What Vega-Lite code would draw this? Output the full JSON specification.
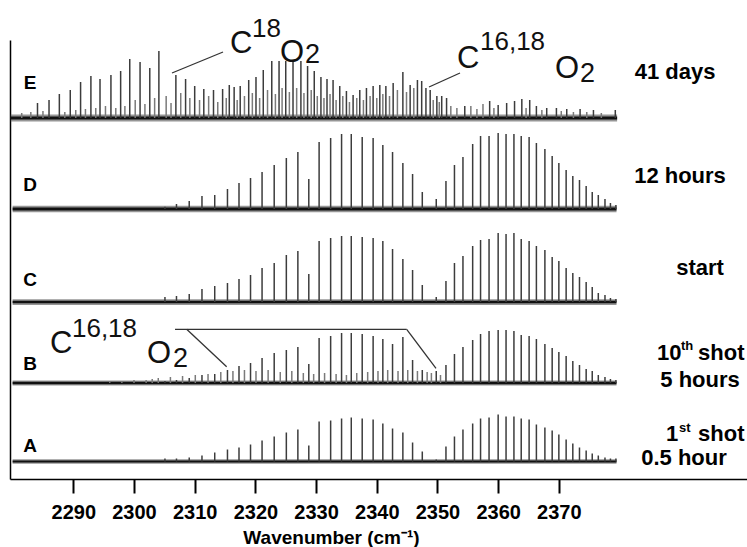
{
  "$schema": "https://vega.github.io/schema/vega-lite/v6.json",
  "width": 737,
  "height": 439,
  "autosize": {"type": "none"},
  "padding": {"left": 10, "top": 40, "right": 0, "bottom": 68},
  "background": "white",
  "config": {
    "view": {"stroke": null},
    "font": "Liberation Sans",
    "axisX": {
      "domainColor": "black", "domainWidth": 1.5, "tickColor": "black", "tickWidth": 2, "tickSize": 14,
      "labelFont": "Liberation Sans", "labelFontSize": 20, "labelFontWeight": "bold", "labelColor": "black", "labelPadding": 9,
      "grid": false, "titleFont": "Liberation Sans", "titleFontSize": 19, "titleFontWeight": "bold", "titleColor": "black",
      "titleX": 321, "titleY": 64, "titleAlign": "center", "titleBaseline": "alphabetic"
    },
    "axisY": {"domainColor": "black", "domainWidth": 1.5, "ticks": false, "labels": false, "grid": false}
  },
  "datasets": {
    "traces": [
      {"trace": "E", "base": 361, "start": 2279.7, "end": 2379.6},
      {"trace": "D", "base": 270, "start": 2280.0, "end": 2379.5},
      {"trace": "C", "base": 177, "start": 2280.0, "end": 2379.5},
      {"trace": "B", "base": 96, "start": 2280.0, "end": 2379.5},
      {"trace": "A", "base": 17.5, "start": 2280.0, "end": 2379.5}
    ],
    "lines": [
      {"trace":"D","wn":2305.1,"h":2.3,"kind":"major"},{"trace":"D","wn":2307.0,"h":5,"kind":"major"},{"trace":"D","wn":2309.1,"h":8,"kind":"major"},{"trace":"D","wn":2311.2,"h":13,"kind":"major"},{"trace":"D","wn":2313.3,"h":14,"kind":"major"},{"trace":"D","wn":2315.4,"h":20,"kind":"major"},{"trace":"D","wn":2317.3,"h":26,"kind":"major"},{"trace":"D","wn":2319.2,"h":31,"kind":"major"},{"trace":"D","wn":2321.1,"h":37,"kind":"major"},{"trace":"D","wn":2323.1,"h":44,"kind":"major"},{"trace":"D","wn":2325.1,"h":51,"kind":"major"},{"trace":"D","wn":2327.0,"h":57,"kind":"major"},{"trace":"D","wn":2328.8,"h":30,"kind":"major"},{"trace":"D","wn":2330.5,"h":67,"kind":"major"},{"trace":"D","wn":2332.4,"h":71,"kind":"major"},{"trace":"D","wn":2334.2,"h":75,"kind":"major"},{"trace":"D","wn":2335.8,"h":75,"kind":"major"},{"trace":"D","wn":2337.6,"h":72,"kind":"major"},{"trace":"D","wn":2339.4,"h":71,"kind":"major"},{"trace":"D","wn":2341.0,"h":64,"kind":"major"},{"trace":"D","wn":2342.6,"h":57,"kind":"major"},{"trace":"D","wn":2344.3,"h":46,"kind":"major"},{"trace":"D","wn":2345.9,"h":35,"kind":"major"},{"trace":"D","wn":2347.5,"h":17,"kind":"major"},
      {"trace":"D","wn":2349.8,"h":10,"kind":"major"},{"trace":"D","wn":2351.4,"h":28,"kind":"major"},{"trace":"D","wn":2352.8,"h":44,"kind":"major"},{"trace":"D","wn":2354.2,"h":52,"kind":"major"},{"trace":"D","wn":2355.8,"h":65,"kind":"major"},{"trace":"D","wn":2357.1,"h":73,"kind":"major"},{"trace":"D","wn":2358.5,"h":73,"kind":"major"},{"trace":"D","wn":2360.0,"h":76,"kind":"major"},{"trace":"D","wn":2361.3,"h":75,"kind":"major"},{"trace":"D","wn":2362.6,"h":75,"kind":"major"},{"trace":"D","wn":2363.8,"h":73,"kind":"major"},{"trace":"D","wn":2365.1,"h":72,"kind":"major"},{"trace":"D","wn":2366.3,"h":66,"kind":"major"},{"trace":"D","wn":2367.7,"h":60,"kind":"major"},{"trace":"D","wn":2368.9,"h":53,"kind":"major"},{"trace":"D","wn":2370.0,"h":46,"kind":"major"},{"trace":"D","wn":2371.2,"h":39,"kind":"major"},{"trace":"D","wn":2372.3,"h":33,"kind":"major"},{"trace":"D","wn":2373.4,"h":29,"kind":"major"},{"trace":"D","wn":2374.5,"h":23,"kind":"major"},{"trace":"D","wn":2375.5,"h":17,"kind":"major"},{"trace":"D","wn":2376.5,"h":14,"kind":"major"},{"trace":"D","wn":2377.6,"h":10,"kind":"major"},{"trace":"D","wn":2378.5,"h":6,"kind":"major"},{"trace":"D","wn":2379.4,"h":4,"kind":"major"},

      {"trace":"C","wn":2305.1,"h":5,"kind":"major"},{"trace":"C","wn":2307.0,"h":6,"kind":"major"},{"trace":"C","wn":2309.1,"h":8,"kind":"major"},{"trace":"C","wn":2311.2,"h":13,"kind":"major"},{"trace":"C","wn":2313.3,"h":16,"kind":"major"},{"trace":"C","wn":2315.4,"h":19,"kind":"major"},{"trace":"C","wn":2317.3,"h":23,"kind":"major"},{"trace":"C","wn":2319.2,"h":27,"kind":"major"},{"trace":"C","wn":2321.1,"h":34,"kind":"major"},{"trace":"C","wn":2323.1,"h":39,"kind":"major"},{"trace":"C","wn":2325.1,"h":47,"kind":"major"},{"trace":"C","wn":2327.0,"h":51,"kind":"major"},{"trace":"C","wn":2328.8,"h":28,"kind":"major"},{"trace":"C","wn":2330.5,"h":61,"kind":"major"},{"trace":"C","wn":2332.4,"h":64,"kind":"major"},{"trace":"C","wn":2334.2,"h":66,"kind":"major"},{"trace":"C","wn":2335.8,"h":66,"kind":"major"},{"trace":"C","wn":2337.6,"h":65,"kind":"major"},{"trace":"C","wn":2339.4,"h":64,"kind":"major"},{"trace":"C","wn":2341.0,"h":61,"kind":"major"},{"trace":"C","wn":2342.6,"h":53,"kind":"major"},{"trace":"C","wn":2344.3,"h":43,"kind":"major"},{"trace":"C","wn":2345.9,"h":32,"kind":"major"},{"trace":"C","wn":2347.5,"h":17,"kind":"major"},
      {"trace":"C","wn":2349.8,"h":5,"kind":"major"},{"trace":"C","wn":2351.4,"h":21,"kind":"major"},{"trace":"C","wn":2352.8,"h":39,"kind":"major"},{"trace":"C","wn":2354.2,"h":46,"kind":"major"},{"trace":"C","wn":2355.8,"h":56,"kind":"major"},{"trace":"C","wn":2357.1,"h":62,"kind":"major"},{"trace":"C","wn":2358.5,"h":63,"kind":"major"},{"trace":"C","wn":2360.0,"h":69,"kind":"major"},{"trace":"C","wn":2361.3,"h":68,"kind":"major"},{"trace":"C","wn":2362.6,"h":69,"kind":"major"},{"trace":"C","wn":2363.8,"h":63,"kind":"major"},{"trace":"C","wn":2365.1,"h":61,"kind":"major"},{"trace":"C","wn":2366.3,"h":56,"kind":"major"},{"trace":"C","wn":2367.7,"h":52,"kind":"major"},{"trace":"C","wn":2368.9,"h":45,"kind":"major"},{"trace":"C","wn":2370.0,"h":41,"kind":"major"},{"trace":"C","wn":2371.2,"h":34,"kind":"major"},{"trace":"C","wn":2372.3,"h":29,"kind":"major"},{"trace":"C","wn":2373.4,"h":25,"kind":"major"},{"trace":"C","wn":2374.5,"h":20,"kind":"major"},{"trace":"C","wn":2375.5,"h":15,"kind":"major"},{"trace":"C","wn":2376.5,"h":9,"kind":"major"},{"trace":"C","wn":2377.6,"h":7,"kind":"major"},{"trace":"C","wn":2378.5,"h":4,"kind":"major"},{"trace":"C","wn":2379.4,"h":3,"kind":"major"},

      {"trace":"B","wn":2305.1,"h":2,"kind":"major"},{"trace":"B","wn":2307.0,"h":3,"kind":"major"},{"trace":"B","wn":2309.1,"h":5,"kind":"major"},{"trace":"B","wn":2311.2,"h":8,"kind":"major"},{"trace":"B","wn":2313.3,"h":9,"kind":"major"},{"trace":"B","wn":2315.4,"h":13,"kind":"major"},{"trace":"B","wn":2317.3,"h":17,"kind":"major"},{"trace":"B","wn":2319.2,"h":20,"kind":"major"},{"trace":"B","wn":2321.1,"h":25,"kind":"major"},{"trace":"B","wn":2323.1,"h":30,"kind":"major"},{"trace":"B","wn":2325.1,"h":33,"kind":"major"},{"trace":"B","wn":2327.0,"h":36,"kind":"major"},{"trace":"B","wn":2328.8,"h":19,"kind":"major"},{"trace":"B","wn":2330.5,"h":45,"kind":"major"},{"trace":"B","wn":2332.4,"h":47,"kind":"major"},{"trace":"B","wn":2334.2,"h":50,"kind":"major"},{"trace":"B","wn":2335.8,"h":50,"kind":"major"},{"trace":"B","wn":2337.6,"h":49,"kind":"major"},{"trace":"B","wn":2339.4,"h":47,"kind":"major"},{"trace":"B","wn":2341.0,"h":44,"kind":"major"},{"trace":"B","wn":2342.6,"h":39,"kind":"major"},{"trace":"B","wn":2344.3,"h":46,"kind":"major"},{"trace":"B","wn":2345.9,"h":23,"kind":"major"},{"trace":"B","wn":2347.5,"h":13,"kind":"major"},
      {"trace":"B","wn":2349.8,"h":12,"kind":"major"},{"trace":"B","wn":2351.4,"h":18,"kind":"major"},{"trace":"B","wn":2352.8,"h":29,"kind":"major"},{"trace":"B","wn":2354.2,"h":36,"kind":"major"},{"trace":"B","wn":2355.8,"h":43,"kind":"major"},{"trace":"B","wn":2357.1,"h":49,"kind":"major"},{"trace":"B","wn":2358.5,"h":52,"kind":"major"},{"trace":"B","wn":2360.0,"h":53,"kind":"major"},{"trace":"B","wn":2361.3,"h":53,"kind":"major"},{"trace":"B","wn":2362.6,"h":52,"kind":"major"},{"trace":"B","wn":2363.8,"h":48,"kind":"major"},{"trace":"B","wn":2365.1,"h":47,"kind":"major"},{"trace":"B","wn":2366.3,"h":44,"kind":"major"},{"trace":"B","wn":2367.7,"h":39,"kind":"major"},{"trace":"B","wn":2368.9,"h":35,"kind":"major"},{"trace":"B","wn":2370.0,"h":31,"kind":"major"},{"trace":"B","wn":2371.2,"h":27,"kind":"major"},{"trace":"B","wn":2372.3,"h":22,"kind":"major"},{"trace":"B","wn":2373.4,"h":18,"kind":"major"},{"trace":"B","wn":2374.5,"h":14,"kind":"major"},{"trace":"B","wn":2375.5,"h":12,"kind":"major"},{"trace":"B","wn":2376.5,"h":8,"kind":"major"},{"trace":"B","wn":2377.6,"h":6,"kind":"major"},{"trace":"B","wn":2378.5,"h":4,"kind":"major"},{"trace":"B","wn":2379.4,"h":3,"kind":"major"},
      {"trace":"B","wn":2296.0,"h":2,"kind":"minor"},{"trace":"B","wn":2298.0,"h":2,"kind":"minor"},{"trace":"B","wn":2300.0,"h":3,"kind":"minor"},{"trace":"B","wn":2302.0,"h":3,"kind":"minor"},{"trace":"B","wn":2303.0,"h":4,"kind":"minor"},{"trace":"B","wn":2304.0,"h":5,"kind":"minor"},{"trace":"B","wn":2306.0,"h":6,"kind":"minor"},{"trace":"B","wn":2308.0,"h":7,"kind":"minor"},{"trace":"B","wn":2310.1,"h":8,"kind":"minor"},{"trace":"B","wn":2312.2,"h":9,"kind":"minor"},{"trace":"B","wn":2314.3,"h":11,"kind":"minor"},{"trace":"B","wn":2316.3,"h":12,"kind":"minor"},{"trace":"B","wn":2318.2,"h":13,"kind":"minor"},{"trace":"B","wn":2320.1,"h":12,"kind":"minor"},{"trace":"B","wn":2322.1,"h":13,"kind":"minor"},{"trace":"B","wn":2324.1,"h":11,"kind":"minor"},{"trace":"B","wn":2326.0,"h":12,"kind":"minor"},{"trace":"B","wn":2327.9,"h":10,"kind":"minor"},{"trace":"B","wn":2329.6,"h":9,"kind":"minor"},{"trace":"B","wn":2331.4,"h":10,"kind":"minor"},{"trace":"B","wn":2333.3,"h":9,"kind":"minor"},{"trace":"B","wn":2335.0,"h":8,"kind":"minor"},{"trace":"B","wn":2336.7,"h":10,"kind":"minor"},{"trace":"B","wn":2338.5,"h":11,"kind":"minor"},{"trace":"B","wn":2340.2,"h":12,"kind":"minor"},{"trace":"B","wn":2341.8,"h":13,"kind":"minor"},{"trace":"B","wn":2343.5,"h":12,"kind":"minor"},{"trace":"B","wn":2345.1,"h":13,"kind":"minor"},{"trace":"B","wn":2346.7,"h":12,"kind":"minor"},{"trace":"B","wn":2348.3,"h":11,"kind":"minor"},{"trace":"B","wn":2349.0,"h":10,"kind":"minor"},{"trace":"B","wn":2350.5,"h":8,"kind":"minor"},

      {"trace":"A","wn":2305.1,"h":3,"kind":"major"},{"trace":"A","wn":2307.0,"h":3,"kind":"major"},{"trace":"A","wn":2309.1,"h":4,"kind":"major"},{"trace":"A","wn":2311.2,"h":6,"kind":"major"},{"trace":"A","wn":2313.3,"h":9,"kind":"major"},{"trace":"A","wn":2315.4,"h":12,"kind":"major"},{"trace":"A","wn":2317.3,"h":14,"kind":"major"},{"trace":"A","wn":2319.2,"h":17,"kind":"major"},{"trace":"A","wn":2321.1,"h":21,"kind":"major"},{"trace":"A","wn":2323.1,"h":25,"kind":"major"},{"trace":"A","wn":2325.1,"h":29,"kind":"major"},{"trace":"A","wn":2327.0,"h":32,"kind":"major"},{"trace":"A","wn":2328.8,"h":16,"kind":"major"},{"trace":"A","wn":2330.5,"h":40,"kind":"major"},{"trace":"A","wn":2332.4,"h":41,"kind":"major"},{"trace":"A","wn":2334.2,"h":43,"kind":"major"},{"trace":"A","wn":2335.8,"h":44,"kind":"major"},{"trace":"A","wn":2337.6,"h":43,"kind":"major"},{"trace":"A","wn":2339.4,"h":42,"kind":"major"},{"trace":"A","wn":2341.0,"h":38,"kind":"major"},{"trace":"A","wn":2342.6,"h":33,"kind":"major"},{"trace":"A","wn":2344.3,"h":29,"kind":"major"},{"trace":"A","wn":2345.9,"h":19,"kind":"major"},{"trace":"A","wn":2347.5,"h":10,"kind":"major"},
      {"trace":"A","wn":2349.8,"h":2,"kind":"major"},{"trace":"A","wn":2351.4,"h":15,"kind":"major"},{"trace":"A","wn":2352.8,"h":25,"kind":"major"},{"trace":"A","wn":2354.2,"h":32,"kind":"major"},{"trace":"A","wn":2355.8,"h":38,"kind":"major"},{"trace":"A","wn":2357.1,"h":43,"kind":"major"},{"trace":"A","wn":2358.5,"h":44,"kind":"major"},{"trace":"A","wn":2360.0,"h":47,"kind":"major"},{"trace":"A","wn":2361.3,"h":45,"kind":"major"},{"trace":"A","wn":2362.6,"h":45,"kind":"major"},{"trace":"A","wn":2363.8,"h":43,"kind":"major"},{"trace":"A","wn":2365.1,"h":42,"kind":"major"},{"trace":"A","wn":2366.3,"h":37,"kind":"major"},{"trace":"A","wn":2367.7,"h":34,"kind":"major"},{"trace":"A","wn":2368.9,"h":31,"kind":"major"},{"trace":"A","wn":2370.0,"h":27,"kind":"major"},{"trace":"A","wn":2371.2,"h":22,"kind":"major"},{"trace":"A","wn":2372.3,"h":18,"kind":"major"},{"trace":"A","wn":2373.4,"h":14,"kind":"major"},{"trace":"A","wn":2374.5,"h":11,"kind":"major"},{"trace":"A","wn":2375.5,"h":8,"kind":"major"},{"trace":"A","wn":2376.5,"h":6,"kind":"major"},{"trace":"A","wn":2377.6,"h":4,"kind":"major"},{"trace":"A","wn":2378.5,"h":3,"kind":"major"},{"trace":"A","wn":2379.4,"h":3,"kind":"major"},

      {"trace":"E","wn":2284.1,"h":15,"kind":"major"},{"trace":"E","wn":2286.0,"h":18,"kind":"major"},{"trace":"E","wn":2287.7,"h":24,"kind":"major"},{"trace":"E","wn":2289.5,"h":28,"kind":"major"},{"trace":"E","wn":2291.2,"h":36,"kind":"major"},{"trace":"E","wn":2292.9,"h":42,"kind":"major"},{"trace":"E","wn":2294.4,"h":39,"kind":"major"},{"trace":"E","wn":2296.2,"h":43,"kind":"major"},{"trace":"E","wn":2297.8,"h":47,"kind":"major"},{"trace":"E","wn":2299.3,"h":59,"kind":"major"},{"trace":"E","wn":2301.0,"h":56,"kind":"major"},{"trace":"E","wn":2302.6,"h":50,"kind":"major"},{"trace":"E","wn":2304.1,"h":67,"kind":"major"},{"trace":"E","wn":2306.9,"h":43,"kind":"major"},{"trace":"E","wn":2308.5,"h":39,"kind":"major"},{"trace":"E","wn":2310.0,"h":32,"kind":"major"},{"trace":"E","wn":2311.5,"h":29,"kind":"major"},{"trace":"E","wn":2313.1,"h":28,"kind":"major"},{"trace":"E","wn":2314.6,"h":29,"kind":"major"},{"trace":"E","wn":2315.7,"h":33,"kind":"major"},{"trace":"E","wn":2316.5,"h":31,"kind":"major"},{"trace":"E","wn":2317.5,"h":32,"kind":"major"},{"trace":"E","wn":2318.9,"h":38,"kind":"major"},{"trace":"E","wn":2320.1,"h":41,"kind":"major"},{"trace":"E","wn":2321.3,"h":48,"kind":"major"},{"trace":"E","wn":2322.7,"h":57,"kind":"major"},{"trace":"E","wn":2323.9,"h":57,"kind":"major"},{"trace":"E","wn":2325.0,"h":57,"kind":"major"},{"trace":"E","wn":2326.2,"h":58,"kind":"major"},{"trace":"E","wn":2327.5,"h":57,"kind":"major"},{"trace":"E","wn":2328.6,"h":52,"kind":"major"},{"trace":"E","wn":2329.7,"h":47,"kind":"major"},{"trace":"E","wn":2330.8,"h":41,"kind":"major"},{"trace":"E","wn":2331.8,"h":39,"kind":"major"},{"trace":"E","wn":2332.8,"h":38,"kind":"major"},{"trace":"E","wn":2333.9,"h":32,"kind":"major"},{"trace":"E","wn":2335.0,"h":27,"kind":"major"},{"trace":"E","wn":2336.1,"h":23,"kind":"major"},{"trace":"E","wn":2337.2,"h":28,"kind":"major"},{"trace":"E","wn":2338.3,"h":30,"kind":"major"},{"trace":"E","wn":2339.4,"h":32,"kind":"major"},{"trace":"E","wn":2340.5,"h":33,"kind":"major"},{"trace":"E","wn":2341.5,"h":32,"kind":"major"},{"trace":"E","wn":2342.7,"h":35,"kind":"major"},{"trace":"E","wn":2344.3,"h":46,"kind":"major"},{"trace":"E","wn":2345.5,"h":33,"kind":"major"},{"trace":"E","wn":2346.7,"h":38,"kind":"major"},{"trace":"E","wn":2347.4,"h":37,"kind":"major"},{"trace":"E","wn":2348.1,"h":30,"kind":"major"},{"trace":"E","wn":2348.8,"h":28,"kind":"major"},{"trace":"E","wn":2349.9,"h":22,"kind":"major"},{"trace":"E","wn":2350.7,"h":22,"kind":"major"},{"trace":"E","wn":2351.5,"h":20,"kind":"major"},{"trace":"E","wn":2354.5,"h":12,"kind":"major"},{"trace":"E","wn":2358.6,"h":17,"kind":"major"},{"trace":"E","wn":2360.0,"h":13,"kind":"major"},{"trace":"E","wn":2361.4,"h":15,"kind":"major"},{"trace":"E","wn":2362.7,"h":17,"kind":"major"},{"trace":"E","wn":2363.9,"h":19,"kind":"major"},{"trace":"E","wn":2365.2,"h":18,"kind":"major"},{"trace":"E","wn":2366.3,"h":12,"kind":"major"},{"trace":"E","wn":2368.0,"h":10,"kind":"major"},{"trace":"E","wn":2369.6,"h":10,"kind":"major"},{"trace":"E","wn":2371.3,"h":9,"kind":"major"},{"trace":"E","wn":2373.5,"h":9,"kind":"major"},{"trace":"E","wn":2375.7,"h":8,"kind":"major"},{"trace":"E","wn":2379.3,"h":8,"kind":"major"},
      {"trace":"E","wn":2281.5,"h":5,"kind":"minor"},{"trace":"E","wn":2283.0,"h":6,"kind":"minor"},{"trace":"E","wn":2285.0,"h":7,"kind":"minor"},{"trace":"E","wn":2288.6,"h":6,"kind":"minor"},{"trace":"E","wn":2290.4,"h":8,"kind":"minor"},{"trace":"E","wn":2292.0,"h":9,"kind":"minor"},{"trace":"E","wn":2293.7,"h":10,"kind":"minor"},{"trace":"E","wn":2295.3,"h":12,"kind":"minor"},{"trace":"E","wn":2297.0,"h":10,"kind":"minor"},{"trace":"E","wn":2298.5,"h":12,"kind":"minor"},
      {"trace":"E","wn":2300.2,"h":18,"kind":"minor"},{"trace":"E","wn":2301.8,"h":14,"kind":"minor"},{"trace":"E","wn":2303.4,"h":20,"kind":"minor"},{"trace":"E","wn":2305.3,"h":22,"kind":"minor"},{"trace":"E","wn":2306.1,"h":15,"kind":"minor"},{"trace":"E","wn":2307.7,"h":25,"kind":"minor"},{"trace":"E","wn":2309.2,"h":20,"kind":"minor"},{"trace":"E","wn":2310.8,"h":18,"kind":"minor"},{"trace":"E","wn":2312.3,"h":22,"kind":"minor"},{"trace":"E","wn":2313.8,"h":16,"kind":"minor"},{"trace":"E","wn":2315.2,"h":20,"kind":"minor"},{"trace":"E","wn":2317.0,"h":18,"kind":"minor"},{"trace":"E","wn":2318.2,"h":22,"kind":"minor"},{"trace":"E","wn":2319.5,"h":25,"kind":"minor"},{"trace":"E","wn":2320.7,"h":20,"kind":"minor"},{"trace":"E","wn":2322.0,"h":28,"kind":"minor"},{"trace":"E","wn":2323.3,"h":24,"kind":"minor"},{"trace":"E","wn":2324.4,"h":30,"kind":"minor"},{"trace":"E","wn":2325.6,"h":26,"kind":"minor"},{"trace":"E","wn":2326.8,"h":30,"kind":"minor"},{"trace":"E","wn":2328.0,"h":25,"kind":"minor"},{"trace":"E","wn":2329.2,"h":28,"kind":"minor"},{"trace":"E","wn":2330.2,"h":22,"kind":"minor"},{"trace":"E","wn":2331.3,"h":20,"kind":"minor"},{"trace":"E","wn":2332.3,"h":24,"kind":"minor"},{"trace":"E","wn":2333.3,"h":18,"kind":"minor"},{"trace":"E","wn":2334.4,"h":22,"kind":"minor"},{"trace":"E","wn":2335.5,"h":16,"kind":"minor"},{"trace":"E","wn":2336.7,"h":20,"kind":"minor"},{"trace":"E","wn":2337.8,"h":18,"kind":"minor"},{"trace":"E","wn":2338.9,"h":22,"kind":"minor"},{"trace":"E","wn":2340.0,"h":20,"kind":"minor"},{"trace":"E","wn":2341.0,"h":24,"kind":"minor"},{"trace":"E","wn":2342.1,"h":22,"kind":"minor"},{"trace":"E","wn":2343.4,"h":28,"kind":"minor"},{"trace":"E","wn":2344.9,"h":26,"kind":"minor"},{"trace":"E","wn":2346.1,"h":30,"kind":"minor"},{"trace":"E","wn":2349.3,"h":18,"kind":"minor"},{"trace":"E","wn":2350.3,"h":16,"kind":"minor"},{"trace":"E","wn":2352.2,"h":12,"kind":"minor"},{"trace":"E","wn":2353.2,"h":10,"kind":"minor"},{"trace":"E","wn":2355.5,"h":12,"kind":"minor"},{"trace":"E","wn":2356.5,"h":9,"kind":"minor"},{"trace":"E","wn":2357.5,"h":14,"kind":"minor"},{"trace":"E","wn":2359.3,"h":10,"kind":"minor"},{"trace":"E","wn":2364.6,"h":10,"kind":"minor"},{"trace":"E","wn":2367.2,"h":8,"kind":"minor"},{"trace":"E","wn":2370.4,"h":7,"kind":"minor"},{"trace":"E","wn":2372.4,"h":6,"kind":"minor"},{"trace":"E","wn":2374.6,"h":6,"kind":"minor"},{"trace":"E","wn":2377.0,"h":5,"kind":"minor"}
    ],
    "leaders": [
      {"wn": 2306.26, "y": 406, "wn2": 2314.67, "y2": 427},
      {"wn": 2348.61, "y": 392, "wn2": 2353.71, "y2": 406},
      {"wn": 2306.76, "y": 149.7, "wn2": 2344.93, "y2": 149.7},
      {"wn": 2308.68, "y": 149.7, "wn2": 2315.27, "y2": 112.3},
      {"wn": 2344.93, "y": 149.7, "wn2": 2349.76, "y2": 110.7}
    ],
    "letters": [
      {"t": "E", "wn": 2282.9, "y": 396},
      {"t": "D", "wn": 2282.9, "y": 294},
      {"t": "C", "wn": 2282.9, "y": 199},
      {"t": "B", "wn": 2282.9, "y": 115},
      {"t": "A", "wn": 2282.9, "y": 33}
    ],
    "rlabels": [
      {"t": "41 days", "wn": 2389.14, "y": 407},
      {"t": "12 hours", "wn": 2389.96, "y": 303},
      {"t": "start", "wn": 2393.26, "y": 211},
      {"t": "5 hours", "wn": 2393.26, "y": 99},
      {"t": "0.5 hour", "wn": 2390.62, "y": 21}
    ],
    "rmain": [
      {"t": "10", "wn": 2386.17, "y": 119},
      {"t": "shot", "wn": 2392.93, "y": 119},
      {"t": "1", "wn": 2387.65, "y": 38},
      {"t": "shot", "wn": 2392.93, "y": 38}
    ],
    "rsup": [
      {"t": "th", "wn": 2390.13, "y": 129},
      {"t": "st", "wn": 2389.8, "y": 47}
    ],
    "isobig": [
      {"t": "C", "wn": 2315.82, "y": 426},
      {"t": "O", "wn": 2324.06, "y": 417},
      {"t": "C", "wn": 2353.22, "y": 411},
      {"t": "O", "wn": 2369.37, "y": 401},
      {"t": "C", "wn": 2286.16, "y": 126},
      {"t": "O", "wn": 2302.14, "y": 116}
    ],
    "isosup": [
      {"t": "18", "wn": 2319.44, "y": 442},
      {"t": "16,18", "wn": 2357.01, "y": 429},
      {"t": "16,18", "wn": 2289.78, "y": 142}
    ],
    "isosub": [
      {"t": "2", "wn": 2328.18, "y": 416},
      {"t": "2", "wn": 2373.49, "y": 397},
      {"t": "2", "wn": 2306.43, "y": 112}
    ]
  },
  "layer": [
    {
      "data": {"name": "traces"},
      "mark": {"type": "rule", "color": "#6a6a6a", "opacity": 0.7},
      "encoding": {
        "x": {"field": "start", "type": "quantitative", "scale": {"domain": [2279.57, 2401.0], "nice": false, "zero": false}, "axis": {"values": [2290, 2300, 2310, 2320, 2330, 2340, 2350, 2360, 2370], "format": "d"}, "title": "Wavenumber (cm⁻¹)"},
        "x2": {"field": "end"},
        "y": {"field": "base", "type": "quantitative", "scale": {"domain": [0, 439], "nice": false, "zero": false}, "title": null},
        "strokeWidth": {"field": "trace", "type": "nominal", "scale": {"domain": ["E", "D", "C", "B", "A"], "range": [7, 4.5, 4.5, 3, 3]}, "legend": null}
      }
    },
    {
      "data": {"name": "traces"},
      "mark": {"type": "rule", "color": "#111"},
      "encoding": {
        "x": {"field": "start", "type": "quantitative", "title": "Wavenumber (cm⁻¹)"},
        "x2": {"field": "end"},
        "y": {"field": "base", "type": "quantitative", "title": null},
        "strokeWidth": {"field": "trace", "type": "nominal", "scale": {"domain": ["E", "D", "C", "B", "A"], "range": [3, 2.2, 2.2, 1.3, 1.3]}, "legend": null}
      }
    },
    {
      "data": {"name": "lines"},
      "transform": [
        {"lookup": "trace", "from": {"data": {"name": "traces"}, "key": "trace", "fields": ["base"]}},
        {"calculate": "datum.base + datum.h", "as": "top"}
      ],
      "mark": {"type": "rule", "strokeWidth": 1.5},
      "encoding": {
        "x": {"field": "wn", "type": "quantitative", "title": "Wavenumber (cm⁻¹)"},
        "y": {"field": "base", "type": "quantitative", "title": null},
        "y2": {"field": "top"},
        "color": {"field": "kind", "type": "nominal", "scale": {"domain": ["major", "minor"], "range": ["#3c3c3c", "#7a7a7a"]}, "legend": null}
      }
    },
    {
      "data": {"name": "leaders"},
      "mark": {"type": "rule", "color": "#333", "strokeWidth": 1.3},
      "encoding": {
        "x": {"field": "wn", "type": "quantitative", "title": "Wavenumber (cm⁻¹)"},
        "x2": {"field": "wn2"},
        "y": {"field": "y", "type": "quantitative", "title": null},
        "y2": {"field": "y2"}
      }
    },
    {
      "data": {"name": "letters"},
      "mark": {"type": "text", "font": "Liberation Sans", "fontWeight": "bold", "fontSize": 19, "align": "center", "baseline": "middle", "color": "black"},
      "encoding": {
        "x": {"field": "wn", "type": "quantitative", "title": "Wavenumber (cm⁻¹)"},
        "y": {"field": "y", "type": "quantitative", "title": null},
        "text": {"field": "t"}
      }
    },
    {
      "data": {"name": "rlabels"},
      "mark": {"type": "text", "font": "Liberation Sans", "fontWeight": "bold", "fontSize": 22, "align": "center", "baseline": "middle", "color": "black"},
      "encoding": {
        "x": {"field": "wn", "type": "quantitative", "title": "Wavenumber (cm⁻¹)"},
        "y": {"field": "y", "type": "quantitative", "title": null},
        "text": {"field": "t"}
      }
    },
    {
      "data": {"name": "rmain"},
      "mark": {"type": "text", "font": "Liberation Sans", "fontWeight": "bold", "fontSize": 22, "align": "left", "baseline": "alphabetic", "color": "black"},
      "encoding": {
        "x": {"field": "wn", "type": "quantitative", "title": "Wavenumber (cm⁻¹)"},
        "y": {"field": "y", "type": "quantitative", "title": null},
        "text": {"field": "t"}
      }
    },
    {
      "data": {"name": "rsup"},
      "mark": {"type": "text", "font": "Liberation Sans", "fontWeight": "bold", "fontSize": 13, "align": "left", "baseline": "alphabetic", "color": "black"},
      "encoding": {
        "x": {"field": "wn", "type": "quantitative", "title": "Wavenumber (cm⁻¹)"},
        "y": {"field": "y", "type": "quantitative", "title": null},
        "text": {"field": "t"}
      }
    },
    {
      "data": {"name": "isobig"},
      "mark": {"type": "text", "font": "Liberation Sans", "fontWeight": "normal", "fontSize": 31, "align": "left", "baseline": "alphabetic", "color": "#111"},
      "encoding": {
        "x": {"field": "wn", "type": "quantitative", "title": "Wavenumber (cm⁻¹)"},
        "y": {"field": "y", "type": "quantitative", "title": null},
        "text": {"field": "t"}
      }
    },
    {
      "data": {"name": "isosup"},
      "mark": {"type": "text", "font": "Liberation Sans", "fontWeight": "normal", "fontSize": 26, "align": "left", "baseline": "alphabetic", "color": "#111"},
      "encoding": {
        "x": {"field": "wn", "type": "quantitative", "title": "Wavenumber (cm⁻¹)"},
        "y": {"field": "y", "type": "quantitative", "title": null},
        "text": {"field": "t"}
      }
    },
    {
      "data": {"name": "isosub"},
      "mark": {"type": "text", "font": "Liberation Sans", "fontWeight": "normal", "fontSize": 27, "align": "left", "baseline": "alphabetic", "color": "#111"},
      "encoding": {
        "x": {"field": "wn", "type": "quantitative", "title": "Wavenumber (cm⁻¹)"},
        "y": {"field": "y", "type": "quantitative", "title": null},
        "text": {"field": "t"}
      }
    }
  ],
  "resolve": {"scale": {"color": "independent", "strokeWidth": "independent"}}
}
